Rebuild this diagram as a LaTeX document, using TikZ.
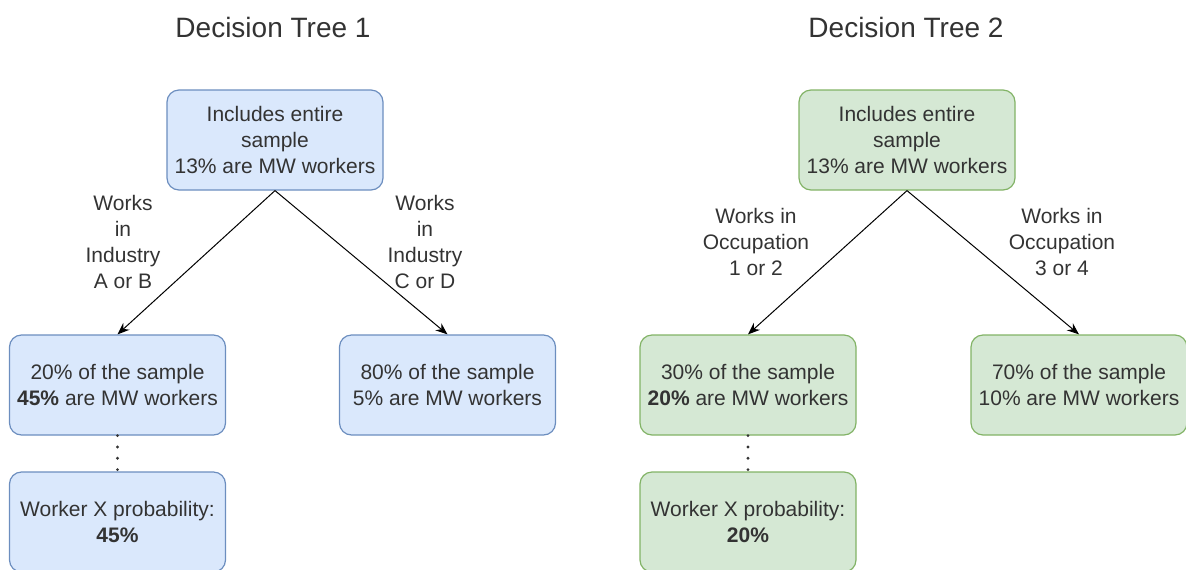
\documentclass[tikz,border=0pt]{standalone}
\usepackage{fontspec}
\setmainfont{Liberation Sans}
\usetikzlibrary{arrows.meta}

\definecolor{blueFill}{HTML}{DAE8FC}
\definecolor{blueLine}{HTML}{6C8EBF}
\definecolor{greenFill}{HTML}{D5E8D4}
\definecolor{greenLine}{HTML}{82B366}
\definecolor{textGray}{HTML}{333333}

\begin{document}
\begin{tikzpicture}[x=0.75pt, y=-0.75pt,
        box/.style={draw, rounded corners=9pt, line width=0.9pt, inner sep=0pt,
            minimum width=162pt, minimum height=75pt, align=center,
            text=textGray, font=\fontsize{15.75}{19.5}\selectfont},
        bluebox/.style={box, fill=blueFill, draw=blueLine},
        greenbox/.style={box, fill=greenFill, draw=greenLine},
        cond/.style={align=center, text=textGray, font=\fontsize{15.75}{19.5}\selectfont},
        title/.style={text=textGray, font=\fontsize{21}{25}\selectfont},
        branch/.style={-{Stealth[length=9pt, width=7pt]}, line width=0.75pt},
        more/.style={line width=2.4pt, line cap=round, dash pattern=on 0pt off 8.5pt, black!80}]
    \useasboundingbox (0,0) rectangle (1186,569);

    % tree 1
    \node[title] (title1) at (273,27) {Decision Tree 1};
    \node[bluebox] (root1) at (275,140) {Includes entire\\sample\\13\% are MW workers};
    \node[bluebox] (left1) at (117.5,385) {20\% of the sample\\\textbf{45\%} are MW workers};
    \node[bluebox] (right1) at (447.5,385) {80\% of the sample\\5\% are MW workers};
    \node[bluebox] (prob1) at (117.5,522) {Worker X probability:\\\textbf{45\%}};
    \node[cond] (condA) at (123,242) {Works\\in\\Industry\\A or B};
    \node[cond] (condC) at (425,242) {Works\\in\\Industry\\C or D};

    \draw[branch] (root1.south) -- (left1.north);
    \draw[branch] (root1.south) -- (right1.north);
    \draw[more] (left1.south) -- (prob1.north);

    % tree 2
    \node[title] (title2) at (906,27) {Decision Tree 2};
    \node[greenbox] (root2) at (907,140) {Includes entire\\sample\\13\% are MW workers};
    \node[greenbox] (left2) at (748,385) {30\% of the sample\\\textbf{20\%} are MW workers};
    \node[greenbox] (right2) at (1079,385) {70\% of the sample\\10\% are MW workers};
    \node[greenbox] (prob2) at (748,522) {Worker X probability:\\\textbf{20\%}};
    \node[cond] (cond1) at (756,242) {Works in\\Occupation\\1 or 2};
    \node[cond] (cond3) at (1062,242) {Works in\\Occupation\\3 or 4};

    \draw[branch] (root2.south) -- (left2.north);
    \draw[branch] (root2.south) -- (right2.north);
    \draw[more] (left2.south) -- (prob2.north);
\end{tikzpicture}
\end{document}
